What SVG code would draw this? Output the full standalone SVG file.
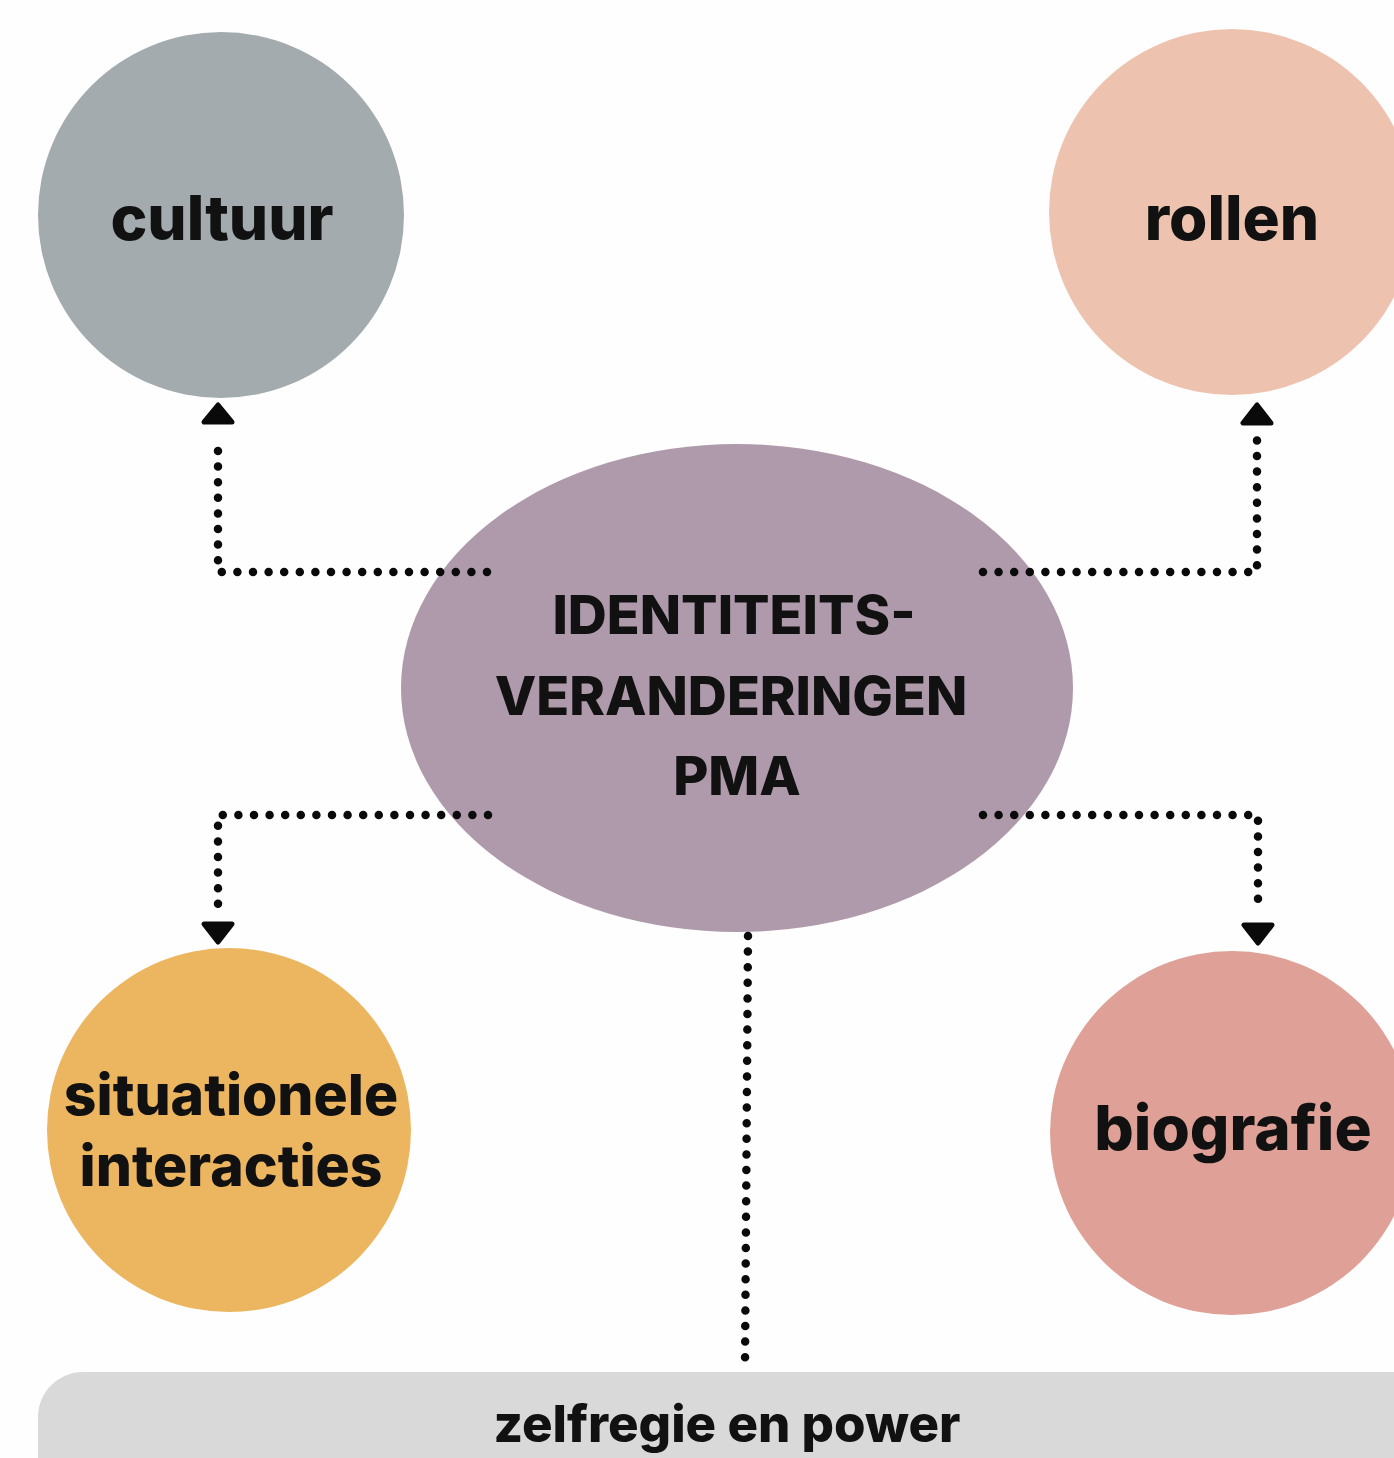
<svg xmlns="http://www.w3.org/2000/svg" width="1394" height="1458" viewBox="0 0 1394 1458">
<style>
.lbl{font-family:Inter,"Liberation Sans",sans-serif;font-weight:800;fill:#111;text-anchor:middle}
.big{font-size:62px}
.sit{font-size:57px}
.ctr{font-size:54px}
.bar{font-size:51px}
.dot{fill:none;stroke:#0a0a0a;stroke-width:8.5;stroke-linecap:round;stroke-dasharray:0 15.6}
.head{fill:#0a0a0a;stroke:#0a0a0a;stroke-width:5;stroke-linejoin:round}
</style>
<rect width="1394" height="1458" fill="#fefefe"/>
<g id="cultuur"><circle cx="221" cy="215" r="183" fill="#a3abaf"/><text class="lbl big" x="222" y="240">cultuur</text></g>
<g id="rollen"><circle cx="1232" cy="212" r="183" fill="#edc3b0"/><text class="lbl big" x="1232" y="240">rollen</text></g>
<g id="situationele"><circle cx="229" cy="1130" r="182" fill="#ecb55f"/><text class="lbl sit" x="231" y="1115">situationele</text><text class="lbl sit" x="231" y="1186">interacties</text></g>
<g id="biografie"><circle cx="1232" cy="1133" r="182" fill="#dfa197"/><text class="lbl big" x="1233" y="1150">biografie</text></g>
<g id="zelfregie"><rect x="38" y="1372" width="1400" height="140" rx="45" fill="#d9d9d9"/><text class="lbl bar" x="727" y="1442">zelfregie en power</text></g>
<g id="center"><ellipse cx="737" cy="688" rx="336" ry="244" fill="#ae9aab"/>
<text class="lbl ctr" x="734" y="634">IDENTITEITS-</text>
<text class="lbl ctr" x="731" y="715">VERANDERINGEN</text>
<text class="lbl ctr" x="737" y="795">PMA</text></g>
<g id="connectors">
<path class="dot" d="M487 572 H218 V437"/>
<path class="head" d="M218 405 L204 422 H232 Z"/>
<path class="dot" d="M983 572 H1257 V438"/>
<path class="head" d="M1257 405 L1243 423 H1271 Z"/>
<path class="dot" d="M488 815 H218 V906"/>
<path class="head" d="M218 942 L204 924 H232 Z"/>
<path class="dot" d="M983 815 H1258 V906"/>
<path class="head" d="M1258 943 L1244 925 H1272 Z"/>
<path class="dot" d="M748 936 L745 1366"/>
</g>
</svg>
